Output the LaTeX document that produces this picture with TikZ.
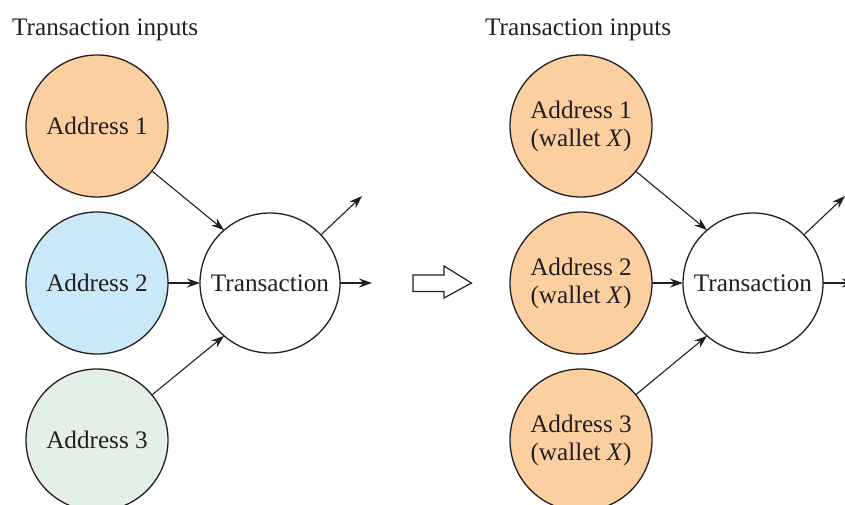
\documentclass[tikz,border=0pt]{standalone}
\usepackage{fontspec}
\setmainfont{Liberation Serif}
\usetikzlibrary{arrows.meta}

\definecolor{addrorange}{RGB}{252,207,160}
\definecolor{addrblue}{RGB}{201,232,248}
\definecolor{addrgreen}{RGB}{226,240,231}
\definecolor{inkline}{RGB}{35,31,32}

\tikzset{
  every node/.style={font=\fontsize{25.2}{28}\selectfont,text=inkline},
  title/.style={anchor=base west,inner sep=0pt},
  addr/.style={circle,draw=inkline,line width=1.3pt,minimum size=142pt,inner sep=0pt,outer sep=0pt,align=center},
  txn/.style={circle,draw=inkline,fill=white,line width=1.3pt,minimum size=140pt,inner sep=0pt,outer sep=0pt},
  link/.style={draw=inkline,line width=1.1pt,-{Stealth[length=13pt,width=9pt]}}
}

\begin{document}
\begin{tikzpicture}[x=1pt,y=-1pt]
\useasboundingbox (0,0) rectangle (845,504);
\clip (0,0) rectangle (845,504);

% before: three addresses, one transaction
\node[title] (t1) at (12,35) {Transaction inputs};
\node[addr,fill=addrorange] (a1) at (97,126) {Address 1};
\node[addr,fill=addrblue]   (a2) at (97,283) {Address 2};
\node[addr,fill=addrgreen]  (a3) at (97,440) {Address 3};
\node[txn] (tx) at (270,283) {Transaction};
\coordinate (o1) at (362,196);
\coordinate (o2) at (372,283);

\draw[link] (a1) -- (tx.131);
\draw[link] (a2) -- (tx);
\draw[link] (a3) -- (tx.229);
\draw[link] (tx) -- (o1);
\draw[link] (tx) -- (o2);

% hollow arrow in the middle
\draw[inkline,line width=1.2pt,fill=white] (413,275)--(444,275)--(444,266)--(471.5,283)--(444,298)--(444,291.5)--(413,291.5)--cycle;

% after: all addresses in wallet X
\node[title] (t2) at (485,35) {Transaction inputs};
\node[addr,fill=addrorange] (b1) at (581,126) {Address 1\\(wallet \textit{X})};
\node[addr,fill=addrorange] (b2) at (581,283) {Address 2\\(wallet \textit{X})};
\node[addr,fill=addrorange] (b3) at (581,440) {Address 3\\(wallet \textit{X})};
\node[txn] (ty) at (753,283) {Transaction};
\coordinate (p1) at (845,196);
\coordinate (p2) at (855,283);

\draw[link] (b1) -- (ty.131);
\draw[link] (b2) -- (ty);
\draw[link] (b3) -- (ty.229);
\draw[link] (ty) -- (p1);
\draw[link] (ty) -- (p2);
\end{tikzpicture}
\end{document}
